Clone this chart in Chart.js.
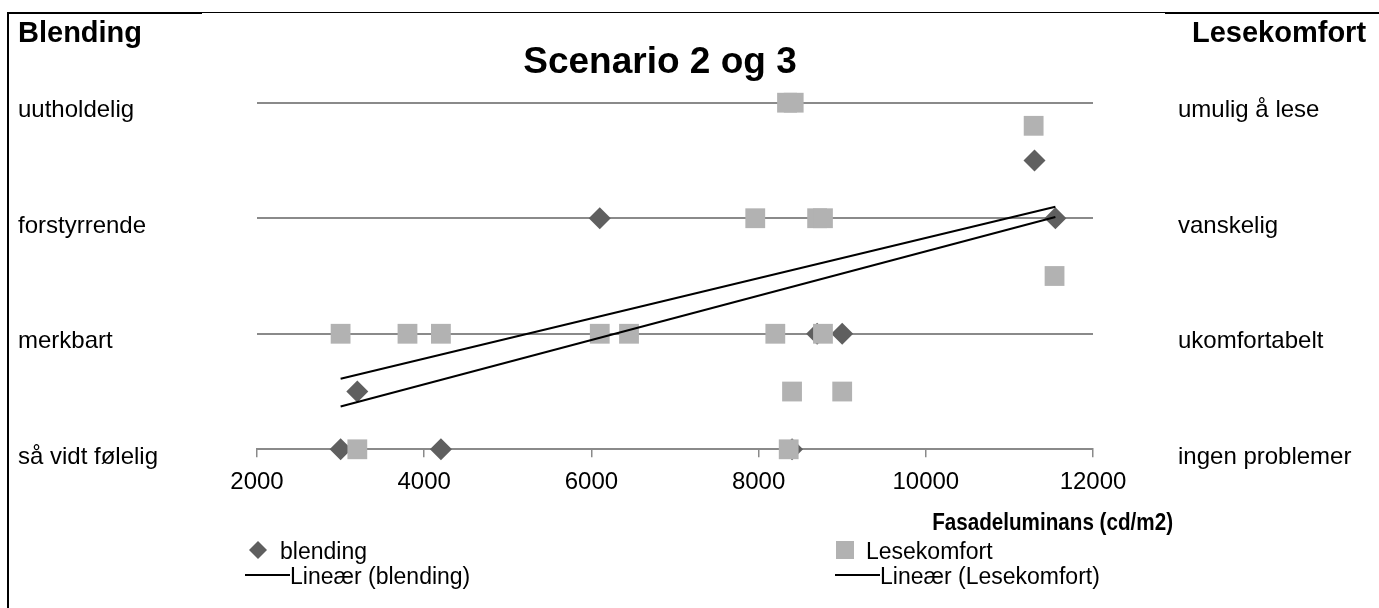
<!DOCTYPE html>
<html>
<head>
<meta charset="utf-8">
<title>Scenario 2 og 3</title>
<script src="https://cdn.jsdelivr.net/npm/chart.js@4/dist/chart.umd.min.js"></script>
<style>
  html, body { margin: 0; padding: 0; background: #ffffff; }
  #wrap { width: 1379px; height: 608px; position: relative; }
</style>
</head>
<body>
<div id="wrap"><canvas id="chart" width="1379" height="608"></canvas></div>
<script>
// Observations: façade luminance (cd/m2) against rated glare / reading comfort
const blendingX = [3000, 3200, 4200, 6100, 8400, 8700, 9000, 11300, 11550];
const blendingY = [0, 0.5, 0, 2, 0, 1, 1, 2.5, 2];

const lesekomfortX = [3200, 3000, 3800, 4200, 6100, 6450, 8200, 8770, 8400, 9000, 8360, 8340, 8420, 11290, 7960, 8700, 8770, 11540];
const lesekomfortY = [0, 1, 1, 1, 1, 1, 1, 1, 0.5, 0.5, 0, 3, 3, 2.8, 2, 2, 2, 1.5];

// Linear trend lines (end points over the data range)
const trendX = [3000, 11550];
const blendingTrendY = [0.37, 2.01];
const lesekomfortTrendY = [0.61, 2.1];

// Scale labels
const blendingLevels = ['så vidt følelig', 'merkbart', 'forstyrrende', 'uutholdelig'];
const lesekomfortLevels = ['ingen problemer', 'ukomfortabelt', 'vanskelig', 'umulig å lese'];
const xTicks = [2000, 4000, 6000, 8000, 10000, 12000];

const FONT = '"Liberation Sans", Arial, Helvetica, sans-serif';
const GRID = '#8a8a8a';
const DARK = '#5f5f5f';
const LIGHT = '#b2b2b2';

const toPoints = (xs, ys) => xs.map((x, i) => ({ x: x, y: ys[i] }));

// Headings, axis title, legend and frame
const decorations = {
  id: 'decorations',
  afterDraw(chart) {
    const ctx = chart.ctx;
    ctx.save();
    ctx.fillStyle = '#000';
    ctx.textBaseline = 'alphabetic';

    ctx.font = 'bold 29px ' + FONT;
    ctx.textAlign = 'left';
    ctx.fillText('Blending', 18, 42);
    ctx.fillText('Lesekomfort', 1192, 42);

    ctx.font = 'bold 37px ' + FONT;
    ctx.textAlign = 'center';
    ctx.fillText('Scenario 2 og 3', 660, 73);

    // x-axis title, set in a slightly condensed bold face
    ctx.save();
    ctx.translate(1173, 530);
    ctx.scale(0.86, 1);
    ctx.font = 'bold 24px ' + FONT;
    ctx.textAlign = 'right';
    ctx.fillText('Fasadeluminans (cd/m2)', 0, 0);
    ctx.restore();

    // legend
    const ds = chart.data.datasets;
    ctx.font = '23px ' + FONT;
    ctx.textAlign = 'left';
    const items = [
      { kind: 'diamond', x: 258, y: 550, label: ds[1].label, color: ds[1].backgroundColor },
      { kind: 'square', x: 845, y: 550, label: ds[0].label, color: ds[0].backgroundColor },
      { kind: 'line', x: 245, y: 575, label: ds[2].label, color: ds[2].borderColor },
      { kind: 'line', x: 835, y: 575, label: ds[3].label, color: ds[3].borderColor }
    ];
    items.forEach(it => {
      if (it.kind === 'diamond') {
        ctx.fillStyle = it.color;
        ctx.beginPath();
        ctx.moveTo(it.x, it.y - 9);
        ctx.lineTo(it.x + 9, it.y);
        ctx.lineTo(it.x, it.y + 9);
        ctx.lineTo(it.x - 9, it.y);
        ctx.closePath();
        ctx.fill();
        ctx.fillStyle = '#000';
        ctx.fillText(it.label, it.x + 22, it.y + 9);
      } else if (it.kind === 'square') {
        ctx.fillStyle = it.color;
        ctx.fillRect(it.x - 9, it.y - 9, 18, 18);
        ctx.fillStyle = '#000';
        ctx.fillText(it.label, it.x + 21, it.y + 9);
      } else {
        ctx.strokeStyle = it.color;
        ctx.lineWidth = 2;
        ctx.beginPath();
        ctx.moveTo(it.x, it.y);
        ctx.lineTo(it.x + 45, it.y);
        ctx.stroke();
        ctx.fillStyle = '#000';
        ctx.fillText(it.label, it.x + 45, it.y + 9);
      }
    });

    // frame
    ctx.fillStyle = '#000';
    ctx.fillRect(7, 12, 2, 596);
    ctx.fillRect(7, 12, 195, 2);
    ctx.fillRect(202, 12, 963, 1);
    ctx.fillRect(1165, 12, 214, 2);
    ctx.restore();
  }
};

new Chart(document.getElementById('chart'), {
  type: 'scatter',
  data: {
    datasets: [
      {
        label: 'Lesekomfort',
        data: toPoints(lesekomfortX, lesekomfortY),
        pointStyle: 'rect',
        pointRadius: 14,
        pointHoverRadius: 14,
        backgroundColor: LIGHT,
        borderColor: LIGHT,
        borderWidth: 0,
        clip: false,
        order: 1
      },
      {
        label: 'blending',
        data: toPoints(blendingX, blendingY),
        pointStyle: 'rectRot',
        pointRadius: 11,
        pointHoverRadius: 11,
        backgroundColor: DARK,
        borderColor: DARK,
        borderWidth: 0,
        clip: false,
        order: 2
      },
      {
        label: 'Lineær (blending)',
        type: 'line',
        data: toPoints(trendX, blendingTrendY),
        showLine: true,
        pointRadius: 0,
        borderColor: '#000',
        borderWidth: 2,
        fill: false,
        clip: false,
        order: 0
      },
      {
        label: 'Lineær (Lesekomfort)',
        type: 'line',
        data: toPoints(trendX, lesekomfortTrendY),
        showLine: true,
        pointRadius: 0,
        borderColor: '#000',
        borderWidth: 2,
        fill: false,
        clip: false,
        order: 0
      }
    ]
  },
  options: {
    responsive: false,
    animation: false,
    events: [],
    layout: { padding: { left: 18, right: 0, top: 102.7, bottom: 108.7 } },
    plugins: {
      legend: { display: false },
      title: { display: false },
      tooltip: { enabled: false }
    },
    scales: {
      x: {
        type: 'linear',
        position: 'bottom',
        min: 2000,
        max: 12000,
        afterBuildTicks: (scale) => { scale.ticks = xTicks.map(v => ({ value: v })); },
        afterFit: (scale) => { scale.height = 50; },
        ticks: {
          callback: (v) => String(v),
          color: '#000',
          font: { family: FONT, size: 24 },
          padding: 11,
          maxRotation: 0,
          autoSkip: false
        },
        grid: {
          drawOnChartArea: false,
          drawTicks: true,
          tickLength: 8,
          color: GRID,
          lineWidth: 1.5
        },
        border: { display: true, color: GRID, width: 2 }
      },
      y: {
        type: 'linear',
        position: 'left',
        min: 0,
        max: 3,
        afterBuildTicks: (scale) => { scale.ticks = blendingLevels.map((_, i) => ({ value: i })); },
        afterFit: (scale) => { scale.width = 239; },
        ticks: {
          callback: (v) => blendingLevels[v],
          crossAlign: 'far',
          color: '#000',
          font: { family: FONT, size: 24 },
          labelOffset: 8,
          autoSkip: false,
          padding: 0
        },
        grid: { color: GRID, lineWidth: 2, drawTicks: false },
        border: { display: false }
      },
      y2: {
        type: 'linear',
        position: 'right',
        min: 0,
        max: 3,
        afterBuildTicks: (scale) => { scale.ticks = lesekomfortLevels.map((_, i) => ({ value: i })); },
        afterFit: (scale) => { scale.width = 286; },
        ticks: {
          callback: (v) => lesekomfortLevels[v],
          crossAlign: 'near',
          color: '#000',
          font: { family: FONT, size: 24 },
          labelOffset: 8,
          autoSkip: false,
          padding: 85
        },
        grid: { display: false, drawTicks: false },
        border: { display: false }
      }
    }
  },
  plugins: [decorations]
});
</script>
</body>
</html>
